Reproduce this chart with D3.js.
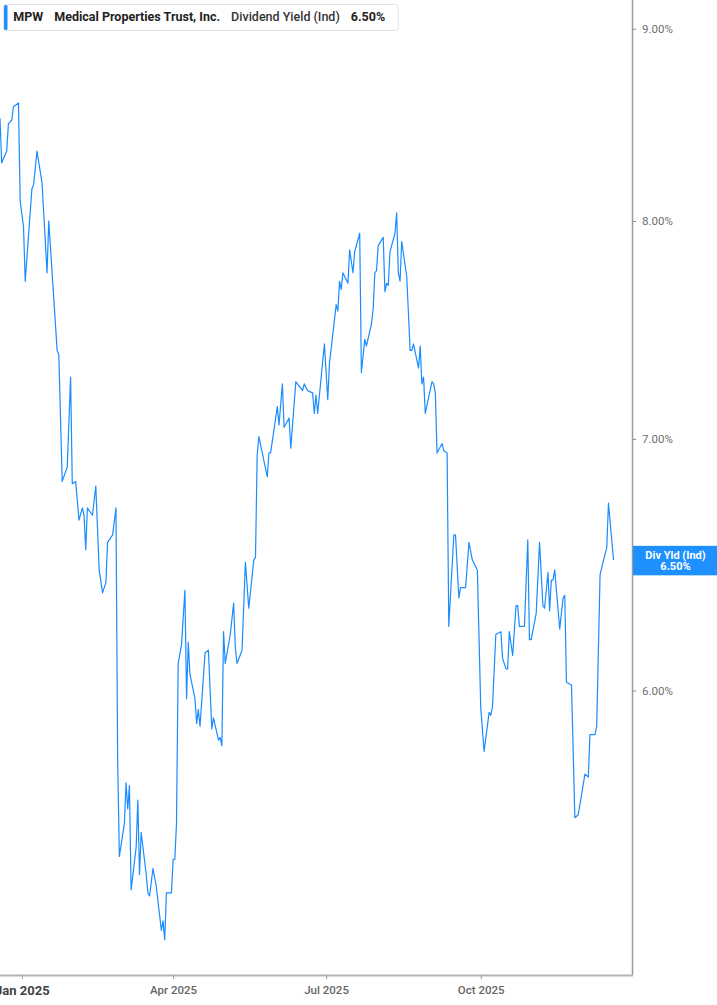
<!DOCTYPE html>
<html>
<head>
<meta charset="utf-8">
<script src="https://cdn.jsdelivr.net/npm/d3@7"></script>
<style>
  html, body { margin: 0; padding: 0; background: #fff; }
  svg { display: block; font-family: Roboto, "Noto Sans", sans-serif; }
</style>
</head>
<body>
<svg id="chart" width="717" height="1005"></svg>
<script>
// Legend texts
const ticker = "MPW";
const company = "Medical Properties Trust, Inc.";
const metric = "Dividend Yield (Ind)";
const lastLabel = "Div Yld (Ind)";

// Daily dividend yield (%)
const dates = [
  "2024-12-19", "2024-12-20", "2024-12-23", "2024-12-24", "2024-12-26", "2024-12-27", "2024-12-30", "2024-12-31",
  "2025-01-02", "2025-01-03", "2025-01-07", "2025-01-08", "2025-01-10", "2025-01-13", "2025-01-16", "2025-01-17",
  "2025-01-22", "2025-01-23", "2025-01-25", "2025-01-28", "2025-01-30", "2025-01-31",
  "2025-02-02", "2025-02-04", "2025-02-06", "2025-02-07", "2025-02-08", "2025-02-09", "2025-02-12", "2025-02-14",
  "2025-02-16", "2025-02-18", "2025-02-20", "2025-02-21", "2025-02-24", "2025-02-26", "2025-02-27", "2025-02-28",
  "2025-03-03", "2025-03-04", "2025-03-05", "2025-03-06", "2025-03-07", "2025-03-10", "2025-03-11", "2025-03-12",
  "2025-03-13", "2025-03-16", "2025-03-17", "2025-03-18", "2025-03-20", "2025-03-22", "2025-03-25", "2025-03-26",
  "2025-03-27", "2025-03-28", "2025-03-31",
  "2025-04-01", "2025-04-02", "2025-04-03", "2025-04-04", "2025-04-06", "2025-04-08", "2025-04-09", "2025-04-10",
  "2025-04-11", "2025-04-14", "2025-04-15", "2025-04-16", "2025-04-17", "2025-04-20", "2025-04-22", "2025-04-24",
  "2025-04-25", "2025-04-28", "2025-04-29", "2025-04-30",
  "2025-05-01", "2025-05-02", "2025-05-05", "2025-05-07", "2025-05-08", "2025-05-09", "2025-05-12", "2025-05-14",
  "2025-05-16", "2025-05-19", "2025-05-20", "2025-05-21", "2025-05-22", "2025-05-27", "2025-05-28", "2025-05-29",
  "2025-06-02", "2025-06-03", "2025-06-05", "2025-06-06", "2025-06-09", "2025-06-10", "2025-06-13", "2025-06-17",
  "2025-06-18", "2025-06-20", "2025-06-23", "2025-06-24", "2025-06-25", "2025-06-26", "2025-06-30",
  "2025-07-02", "2025-07-03", "2025-07-07", "2025-07-08", "2025-07-09", "2025-07-10", "2025-07-11", "2025-07-14",
  "2025-07-15", "2025-07-17", "2025-07-18", "2025-07-21", "2025-07-22", "2025-07-24", "2025-07-25", "2025-07-28",
  "2025-07-29", "2025-07-30", "2025-07-31",
  "2025-08-01", "2025-08-04", "2025-08-05", "2025-08-06", "2025-08-07", "2025-08-08", "2025-08-11", "2025-08-12",
  "2025-08-13", "2025-08-14", "2025-08-15", "2025-08-18", "2025-08-20", "2025-08-21", "2025-08-22", "2025-08-25",
  "2025-08-26", "2025-08-27", "2025-08-28", "2025-08-29",
  "2025-09-02", "2025-09-03", "2025-09-04", "2025-09-05", "2025-09-08", "2025-09-09", "2025-09-11", "2025-09-12",
  "2025-09-15", "2025-09-16", "2025-09-18", "2025-09-19", "2025-09-22", "2025-09-24", "2025-09-26", "2025-09-29",
  "2025-10-01", "2025-10-03", "2025-10-06", "2025-10-07", "2025-10-08", "2025-10-10", "2025-10-13", "2025-10-14",
  "2025-10-16", "2025-10-17", "2025-10-18", "2025-10-20", "2025-10-22", "2025-10-23", "2025-10-24", "2025-10-27",
  "2025-10-29", "2025-10-30", "2025-10-31",
  "2025-11-03", "2025-11-05", "2025-11-07", "2025-11-08", "2025-11-10", "2025-11-11", "2025-11-12", "2025-11-13",
  "2025-11-14", "2025-11-17", "2025-11-19", "2025-11-20", "2025-11-21", "2025-11-24", "2025-11-26", "2025-11-28",
  "2025-12-02", "2025-12-04", "2025-12-05", "2025-12-08", "2025-12-09", "2025-12-11", "2025-12-12", "2025-12-15",
  "2025-12-16", "2025-12-19"
];
const yields = [
  8.52, 8.29, 8.35, 8.49, 8.51, 8.58, 8.60, 8.10,
  7.97, 7.71, 8.16, 8.18, 8.35, 8.19, 7.75, 8.00,
  7.39, 7.37, 6.82, 6.88, 7.27, 6.81,
  6.82, 6.66, 6.71, 6.68, 6.54, 6.71, 6.68, 6.80,
  6.46, 6.37, 6.41, 6.57, 6.60, 6.71, 5.75, 5.42,
  5.53, 5.67, 5.58, 5.66, 5.31, 5.45, 5.61, 5.36,
  5.50, 5.36, 5.30, 5.29, 5.38, 5.32, 5.18, 5.21,
  5.15, 5.30, 5.30,
  5.41, 5.41, 5.53, 6.10, 6.17, 6.38, 5.97, 6.18,
  6.06, 5.97, 5.88, 5.93, 5.87, 6.14, 6.15, 5.86,
  5.90, 5.82, 5.83, 5.80,
  6.22, 6.10, 6.21, 6.33, 6.16, 6.10, 6.15, 6.49,
  6.31, 6.50, 6.51, 6.93, 7.01, 6.84, 6.94, 6.94,
  7.14, 7.06, 7.24, 7.05, 7.09, 6.96, 7.25, 7.21,
  7.24, 7.21, 7.20, 7.11, 7.19, 7.11, 7.42,
  7.17, 7.33, 7.60, 7.57, 7.71, 7.67, 7.75, 7.70,
  7.86, 7.75, 7.85, 7.94, 7.29, 7.44, 7.41, 7.51,
  7.58, 7.75, 7.76,
  7.88, 7.92, 7.66, 7.70, 7.69, 7.85, 7.94, 8.04,
  7.75, 7.71, 7.90, 7.73, 7.39, 7.39, 7.42, 7.31,
  7.41, 7.24, 7.27, 7.11,
  7.25, 7.24, 7.20, 6.94, 6.98, 6.95, 6.94, 6.24,
  6.60, 6.60, 6.35, 6.39, 6.39, 6.57, 6.50, 6.46,
  5.94, 5.78, 5.92, 5.91, 5.94, 6.21, 6.22, 6.12,
  6.08, 6.08, 6.22, 6.13, 6.32, 6.32, 6.24, 6.24,
  6.58, 6.19, 6.19,
  6.29, 6.57, 6.32, 6.31, 6.45, 6.30, 6.42, 6.42,
  6.46, 6.23, 6.35, 6.36, 6.03, 6.02, 5.55, 5.56,
  5.70, 5.69, 5.84, 5.84, 5.87, 6.44, 6.47, 6.55,
  6.73, 6.50
];

// Axis ticks
const yTicks = [6, 7, 8, 9];
const xTicks = ["2025-01-01", "2025-04-01", "2025-07-01", "2025-10-01"];
const xExtent = ["2024-12-19", "2025-12-30"];
const yExtent = [5.04, 9.16];

const blue = "#1e90ff";
const parse = d3.utcParse("%Y-%m-%d");
const data = dates.map((d, i) => ({ date: parse(d), value: yields[i] }));

// Plot area: right axis sits at x = w, time axis at y = h
const w = 632, h = 975;
const svg = d3.select("#chart");

const xScale = d3.scaleUtc().domain(xExtent.map(parse)).range([0, w]);
const yScale = d3.scaleLog().domain(yExtent).range([h, 0]);

svg.append("defs").append("clipPath").attr("id", "plot-clip")
  .append("rect").attr("x", 0).attr("y", 0).attr("width", w).attr("height", h);

// The yield line
const line = d3.line()
  .x(d => xScale(d.date))
  .y(d => yScale(d.value));

svg.append("path")
  .datum(data)
  .attr("clip-path", "url(#plot-clip)")
  .attr("d", line)
  .attr("fill", "none")
  .attr("stroke", "#1a8cff")
  .attr("stroke-width", 1.2)
  .attr("stroke-linejoin", "round");

// Right value axis
svg.append("line")
  .attr("x1", w + 0.5).attr("x2", w + 0.5).attr("y1", 0).attr("y2", h)
  .attr("stroke", "#9c9c9c").attr("stroke-width", 1.5);

const yAxis = svg.append("g")
  .attr("transform", `translate(${w + 1},0)`)
  .call(d3.axisRight(yScale).tickValues(yTicks).tickSize(3).tickPadding(6)
    .tickFormat(d => d.toFixed(2) + "%"));
yAxis.select(".domain").remove();
yAxis.selectAll("line").attr("stroke", "#888");
yAxis.selectAll("text")
  .attr("font-family", "Roboto, sans-serif")
  .attr("font-size", 11.5)
  .attr("fill", "#6e6e6e");

// Bottom time axis
svg.append("line")
  .attr("x1", 0).attr("x2", w + 1).attr("y1", h + 0.5).attr("y2", h + 0.5)
  .attr("stroke", "#b4b4b4").attr("stroke-width", 2);

const xAxis = svg.append("g")
  .attr("transform", `translate(0,${h})`)
  .call(d3.axisBottom(xScale).tickValues(xTicks.map(parse)).tickSize(4).tickPadding(7)
    .tickFormat(d3.utcFormat("%b %Y")));
xAxis.select(".domain").remove();
xAxis.selectAll("line").attr("stroke", "#999");
xAxis.selectAll("text")
  .attr("font-family", "Roboto, sans-serif")
  .attr("font-size", 11.5)
  .attr("font-weight", 500)
  .attr("fill", "#666");
// year start label is drawn bolder
xAxis.selectAll("text").filter((d, i) => i === 0)
  .attr("font-size", 13)
  .attr("font-weight", 700)
  .attr("fill", "#444");

// Last value label on the right axis
const last = data[data.length - 1];
const ly = yScale(last.value);
const tag = svg.append("g");
tag.append("rect")
  .attr("x", w + 1).attr("y", ly - 14)
  .attr("width", 717 - w - 1).attr("height", 29.5)
  .attr("fill", blue);
tag.append("text")
  .attr("x", (w + 717) / 2 + 1).attr("y", ly - 1)
  .attr("text-anchor", "middle")
  .attr("font-size", 11).attr("font-weight", 700).attr("fill", "#fff")
  .text(lastLabel);
tag.append("text")
  .attr("x", (w + 717) / 2 + 1).attr("y", ly + 10.5)
  .attr("text-anchor", "middle")
  .attr("font-size", 11).attr("font-weight", 700).attr("fill", "#fff")
  .text(last.value.toFixed(2) + "%");

// Legend box at top left
const legend = svg.append("g");
const legendBox = legend.append("rect")
  .attr("x", 3.5).attr("y", 4.5).attr("height", 26).attr("rx", 3)
  .attr("fill", "#fff").attr("stroke", "#e3e3e3");
legend.append("rect")
  .attr("x", 4).attr("y", 5).attr("width", 3.5).attr("height", 25).attr("rx", 1.5)
  .attr("fill", blue);

const parts = [
  { text: ticker, weight: 700, color: "#222" },
  { text: company, weight: 700, color: "#222" },
  { text: metric, weight: 500, color: "#333" },
  { text: last.value.toFixed(2) + "%", weight: 700, color: "#222" }
];
let cx = 13.3;
parts.forEach(p => {
  const t = legend.append("text")
    .attr("x", cx).attr("y", 21.3)
    .attr("font-size", 12.5).attr("font-weight", p.weight).attr("fill", p.color)
    .text(p.text);
  cx += t.node().getComputedTextLength() + 11;
});
legendBox.attr("width", cx - 11 + 13 - 3.5);
</script>
</body>
</html>
